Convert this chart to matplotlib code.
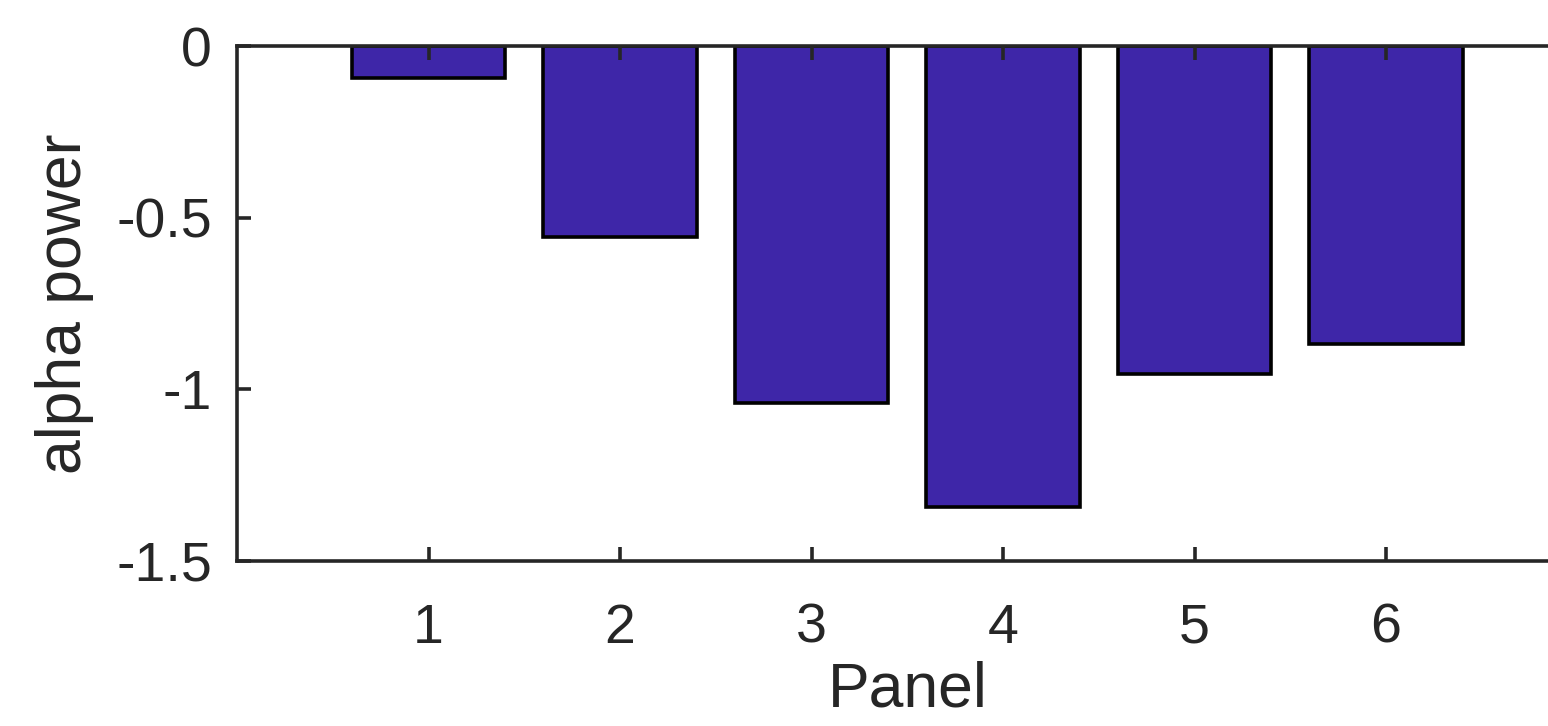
import matplotlib.pyplot as plt
import numpy as np

plt.rcParams['font.family'] = ['Liberation Sans', 'DejaVu Sans']

panels = [1, 2, 3, 4, 5, 6]
alpha_power = [-0.093, -0.556, -1.04, -1.343, -0.955, -0.868]

fig = plt.figure(figsize=(15.48, 7.26), dpi=100)
ax = fig.add_axes([0.1531, 0.2273, 0.866, 0.7093])

ax.bar(panels, alpha_power, width=0.8, color='#3E26A8', edgecolor='black', linewidth=2.6)

ax.set_xlim(0, 7)
ax.set_ylim(-1.5, 0)
ax.set_xticks(panels)
ax.set_yticks([-1.5, -1, -0.5, 0])
ax.set_yticklabels(['-1.5', '-1', '-0.5', '0'])

for s in ax.spines.values():
    s.set_color('#262626')
    s.set_linewidth(2.6)

ax.tick_params(axis='x', direction='in', top=True, length=10, width=2.6,
               colors='#262626', labelsize=40, pad=30)
ax.tick_params(axis='y', direction='in', length=10, width=2.6,
               colors='#262626', labelsize=40, pad=18)

ax.set_xlabel('Panel', fontsize=45, color='#262626', labelpad=4)
ax.set_ylabel('alpha power', fontsize=45, color='#262626', labelpad=16)

fig.savefig('out.png', dpi=100)
